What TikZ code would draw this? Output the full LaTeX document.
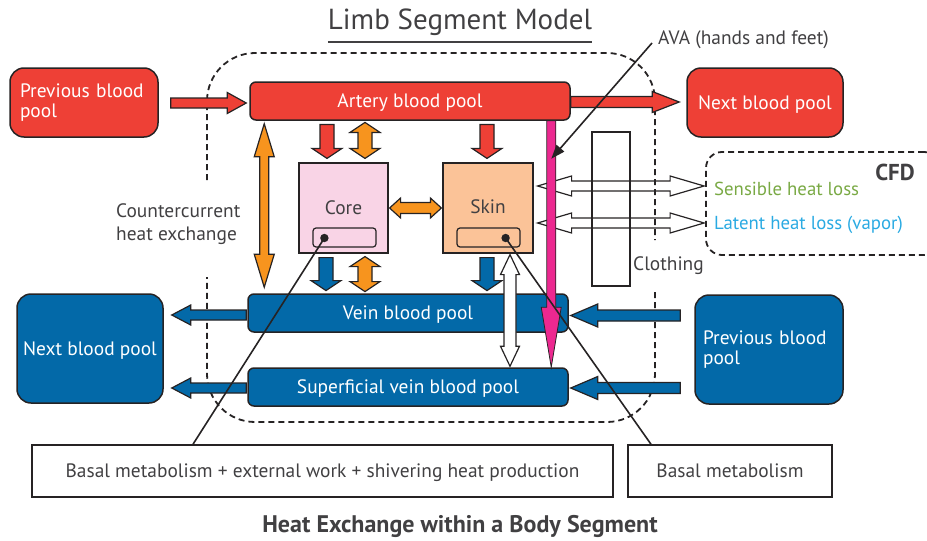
\documentclass[tikz,border=0pt]{standalone}
\usepackage{fontspec}
\setmainfont{PT Sans}
\usetikzlibrary{calc,arrows.meta}

\definecolor{outl}{HTML}{262324}
\definecolor{txt}{HTML}{414042}
\definecolor{redc}{HTML}{EE4036}
\definecolor{bluec}{HTML}{0369A8}
\definecolor{orangec}{HTML}{F7941E}
\definecolor{magc}{HTML}{EC2890}
\definecolor{corec}{HTML}{F9D4E6}
\definecolor{skinc}{HTML}{FBC398}
\definecolor{greent}{HTML}{79A944}
\definecolor{bluet}{HTML}{2AAAE2}

\newcommand\bodyfont{\fontsize{19.4}{20.5}\selectfont}
\newcommand\smallfont{\fontsize{18.8}{20}\selectfont}

% block arrow with one head: style, from, to, shaft half-width, head half-width, head length
\newcommand\sglarrow[6]{%
  \path[#1] let \p1=($(#3)!#6!(#2)$) in
    ($(#2)!#4!90:(#3)$) -- ($(\p1)!#4!-90:(#2)$) -- ($(\p1)!#5!-90:(#2)$) -- (#3)
    -- ($(\p1)!#5!90:(#2)$) -- ($(\p1)!#4!90:(#2)$) -- ($(#2)!#4!-90:(#3)$) -- cycle;}
% block arrow with two heads
\newcommand\dblarrow[6]{%
  \path[#1] let \p1=($(#2)!#6!(#3)$), \p2=($(#3)!#6!(#2)$) in
    (#2) -- ($(\p1)!#5!90:(#3)$) -- ($(\p1)!#4!90:(#3)$) -- ($(\p2)!#4!-90:(#2)$)
    -- ($(\p2)!#5!-90:(#2)$) -- (#3) -- ($(\p2)!#5!90:(#2)$) -- ($(\p2)!#4!90:(#2)$)
    -- ($(\p1)!#4!-90:(#3)$) -- ($(\p1)!#5!-90:(#3)$) -- cycle;}

\tikzset{
  pool/.style={draw=outl, line width=1.5pt, rounded corners=6pt, text=white,
    minimum width=320pt, minimum height=38pt, inner sep=0pt, font=\bodyfont, text depth=0pt},
  bigpool/.style={draw=outl, line width=1.5pt, rounded corners=14pt, text=white,
    font=\bodyfont, inner ysep=0pt},
  tissue/.style={draw=outl, line width=1.2pt, minimum width=90pt, minimum height=90pt,
    inner sep=0pt, text=txt, font=\bodyfont},
  slot/.style={draw=outl, line width=1.2pt, rounded corners=3pt, minimum width=63pt,
    minimum height=19pt, inner sep=0pt},
  region/.style={draw=outl, line width=1.8pt, dash pattern=on 6pt off 4pt, rounded corners=48pt},
  label/.style={text=txt, font=\bodyfont, inner sep=0pt},
  infobox/.style={draw=outl, line width=1.5pt, minimum height=52pt, text=txt, font=\bodyfont,
    text depth=0pt},
  blk/.style={draw=outl, line width=1.2pt, line join=miter},
  pointer/.style={draw=outl, line width=1.6pt},
}

\begin{document}
\begin{tikzpicture}[x=1pt,y=-1pt]
\useasboundingbox (0,0) rectangle (927,541);

% title
\node[text=txt, font=\fontsize{29}{32}\selectfont, inner sep=0pt] (title) at (460,22.5) {Limb Segment Model};
\draw[txt, line width=2.4pt] ($(title.south west)+(0,6)$) -- ($(title.south east)+(0,6)$);

% limb segment boundary
\draw[region] (207,180) -- (207,53) -- (655,53) -- (655,240);
\draw[region] (655,292) -- (655,422) -- (207,422) -- (207,277);

% CFD domain
\node[draw=outl, line width=1.8pt, dash pattern=on 6pt off 4pt, rounded corners=16pt,
  minimum width=234pt, minimum height=103pt] (cfd) at (823,203.5) {};
\node[text=txt, font=\fontsize{23}{25}\selectfont\bfseries, inner sep=0pt] (cfdlbl) at (895,172) {CFD};
\node[anchor=west, text=greent, font=\smallfont, inner sep=0pt] (sens) at (714,189) {Sensible heat loss};
\node[anchor=west, text=bluet, font=\smallfont, inner sep=0pt] (lat) at (714,225) {Latent heat loss (vapor)};

% clothing layer
\node[draw=outl, line width=1.2pt, minimum width=38pt, minimum height=154pt, inner sep=0pt] (cloth) at (611,209) {};
\node[label, anchor=west] (clothlbl) at (633,266) {Clothing};

% blood pools
\node[bigpool, fill=redc, minimum height=69pt, text width=128pt, inner xsep=10pt, align=left] (prevR) at (84,102.5) {Previous blood\\pool};
\node[pool, fill=redc] (artery) at (410,101) {Artery blood pool};
\node[bigpool, fill=redc, minimum width=156pt, minimum height=69pt, text depth=0pt] (nextR) at (765,102.5) {Next blood pool};
\node[pool, fill=bluec] (vein) at (408,313) {Vein blood pool};
\node[pool, fill=bluec] (svein) at (408,387) {Superficial vein blood pool};
\node[bigpool, fill=bluec, minimum width=146pt, minimum height=109pt, text depth=0pt] (nextB) at (90,348.5) {Next blood pool};
\node[bigpool, fill=bluec, minimum height=109pt, text width=132pt, inner xsep=8pt, align=left] (prevB) at (769,349.5) {Previous blood\\pool};

% tissue compartments
\node[tissue, fill=corec, minimum width=89pt] (core) at (343.5,208) {Core};
\node[tissue, fill=skinc] (skin) at (488,208) {\raisebox{2pt}{Skin}};
\node[slot] (coreIn) at (344.5,237.5) {};
\node[slot] (skinIn) at (488.5,237.5) {};

\node[label, anchor=west, align=left, font=\fontsize{19.4}{23}\selectfont] (cc) at (116,224) {Countercurrent\\heat exchange};

% arrow end points
\coordinate (rA1) at ($(prevR.east)+(12,0.5)$);
\coordinate (rA2) at ($(artery.west)+(-3,2)$);
\coordinate (rB1) at ($(artery.east)+(0,1)$);
\coordinate (rB2) at ($(nextR.west)+(-7,-0.5)$);
\coordinate (rC1) at ($(core.north)+(-16.5,-38)$);
\coordinate (rC2) at ($(core.north)+(-16.5,-4)$);
\coordinate (rD1) at ($(skin.north)+(-1,-38)$);
\coordinate (rD2) at ($(skin.north)+(-1,-4)$);
\coordinate (oA1) at ($(core.north)+(21.5,-40)$);
\coordinate (oA2) at ($(core.north)+(21.5,-4)$);
\coordinate (oB1) at ($(core.east)+(1,0)$);
\coordinate (oB2) at ($(skin.west)+(-1,0)$);
\coordinate (oC1) at ($(artery.south west)+(15,3)$);
\coordinate (oC2) at ($(vein.north west)+(17,-6)$);
\coordinate (oD1) at ($(core.south)+(21.5,3)$);
\coordinate (oD2) at ($(core.south)+(21.5,38)$);
\coordinate (bA1) at ($(core.south)+(-17.5,4)$);
\coordinate (bA2) at ($(core.south)+(-17.5,37)$);
\coordinate (bB1) at ($(skin.south)+(-1,4)$);
\coordinate (bB2) at ($(skin.south)+(-1,37)$);
\coordinate (wA1) at ($(skin.south)+(22,1)$);
\coordinate (wA2) at ($(svein.north)+(102,-1)$);
\coordinate (wB1) at ($(skin.east)+(4,-22)$);
\coordinate (wB2) at ($(cfd.west)+(-1,-17.5)$);
\coordinate (wC1) at ($(skin.east)+(4,15)$);
\coordinate (wC2) at ($(cfd.west)+(-1,19.5)$);
\coordinate (mA1) at ($(artery.south east)+(-19.5,0)$);
\coordinate (mA2) at ($(svein.north east)+(-17.5,0)$);
\coordinate (bC1) at ($(vein.west)+(-1,2)$);
\coordinate (bC2) at ($(nextB.east)+(8,-33.5)$);
\coordinate (bD1) at ($(svein.west)+(-1,1)$);
\coordinate (bD2) at ($(nextB.east)+(8,39.5)$);
\coordinate (bE1) at ($(prevB.west)+(-14,-34)$);
\coordinate (bE2) at ($(vein.east)+(2,2.5)$);
\coordinate (bF1) at ($(prevB.west)+(-14,38.5)$);
\coordinate (bF2) at ($(svein.east)+(2,1)$);

% arterial supply
\sglarrow{blk, fill=redc}{rA1}{rA2}{5pt}{10.5pt}{19pt}
\sglarrow{blk, fill=redc}{rB1}{rB2}{5.5pt}{10.5pt}{27pt}
\sglarrow{blk, fill=redc}{rC1}{rC2}{7pt}{15pt}{10pt}
\sglarrow{blk, fill=redc}{rD1}{rD2}{7pt}{15pt}{10pt}

% heat conduction
\dblarrow{blk, fill=orangec}{oA1}{oA2}{7pt}{15pt}{10pt}
\dblarrow{blk, fill=orangec}{oB1}{oB2}{5.5pt}{10pt}{11pt}
\dblarrow{blk, fill=orangec}{oC1}{oC2}{4.5pt}{10pt}{33pt}
\dblarrow{blk, fill=orangec}{oD1}{oD2}{7pt}{15pt}{10pt}

% venous return
\sglarrow{blk, fill=bluec}{bA1}{bA2}{7pt}{15pt}{10pt}
\sglarrow{blk, fill=bluec}{bB1}{bB2}{7pt}{15pt}{10pt}
\sglarrow{blk, fill=bluec}{bC1}{bC2}{5pt}{10pt}{19pt}
\sglarrow{blk, fill=bluec}{bD1}{bD2}{5pt}{10pt}{19pt}
\sglarrow{blk, fill=bluec}{bE1}{bE2}{5.5pt}{11.5pt}{27pt}
\sglarrow{blk, fill=bluec}{bF1}{bF2}{5.5pt}{11.5pt}{27pt}

% skin exchanges
\dblarrow{blk, fill=white}{wA1}{wA2}{6pt}{9.5pt}{20pt}
\dblarrow{blk}{wB1}{wB2}{5pt}{10pt}{34pt}
\dblarrow{blk}{wC1}{wC2}{5pt}{10pt}{34pt}

% arteriovenous anastomoses
\sglarrow{draw=outl, line width=0.8pt, fill=magc}{mA1}{mA2}{4.5pt}{10pt}{60pt}
\node[label, anchor=west, font=\bodyfont] (ava) at (658,40) {AVA (hands and feet)};
\coordinate (avaS) at ($(ava.west)+(-6,3)$);
\coordinate (avaT) at ($(mA1)+(0,38)$);
\draw[pointer, -{Triangle[length=14pt,width=10pt]}] (avaS) -- (avaT);

% heat production
\node[infobox, minimum width=581pt] (metab) at (322.5,471) {Basal metabolism + external work + shivering heat production};
\node[infobox, minimum width=204pt] (basal) at (730,471) {Basal metabolism};
\coordinate (cdot) at ($(coreIn.west)+(12,0.5)$);
\coordinate (sdot) at ($(skinIn.east)+(-15,0.5)$);
\coordinate (mEnd) at ($(metab.north)+(-129.5,0)$);
\coordinate (bEnd) at ($(basal.north)+(-79,0)$);
\draw[pointer] (cdot) -- (mEnd);
\draw[pointer] (sdot) -- (bEnd);
\fill[outl] (cdot) circle (4.2pt);
\fill[outl] (sdot) circle (4.2pt);

\node[text=txt, font=\fontsize{24}{26}\selectfont\bfseries, inner sep=0pt] (caption) at (460,526) {Heat Exchange within a Body Segment};
\end{tikzpicture}
\end{document}
